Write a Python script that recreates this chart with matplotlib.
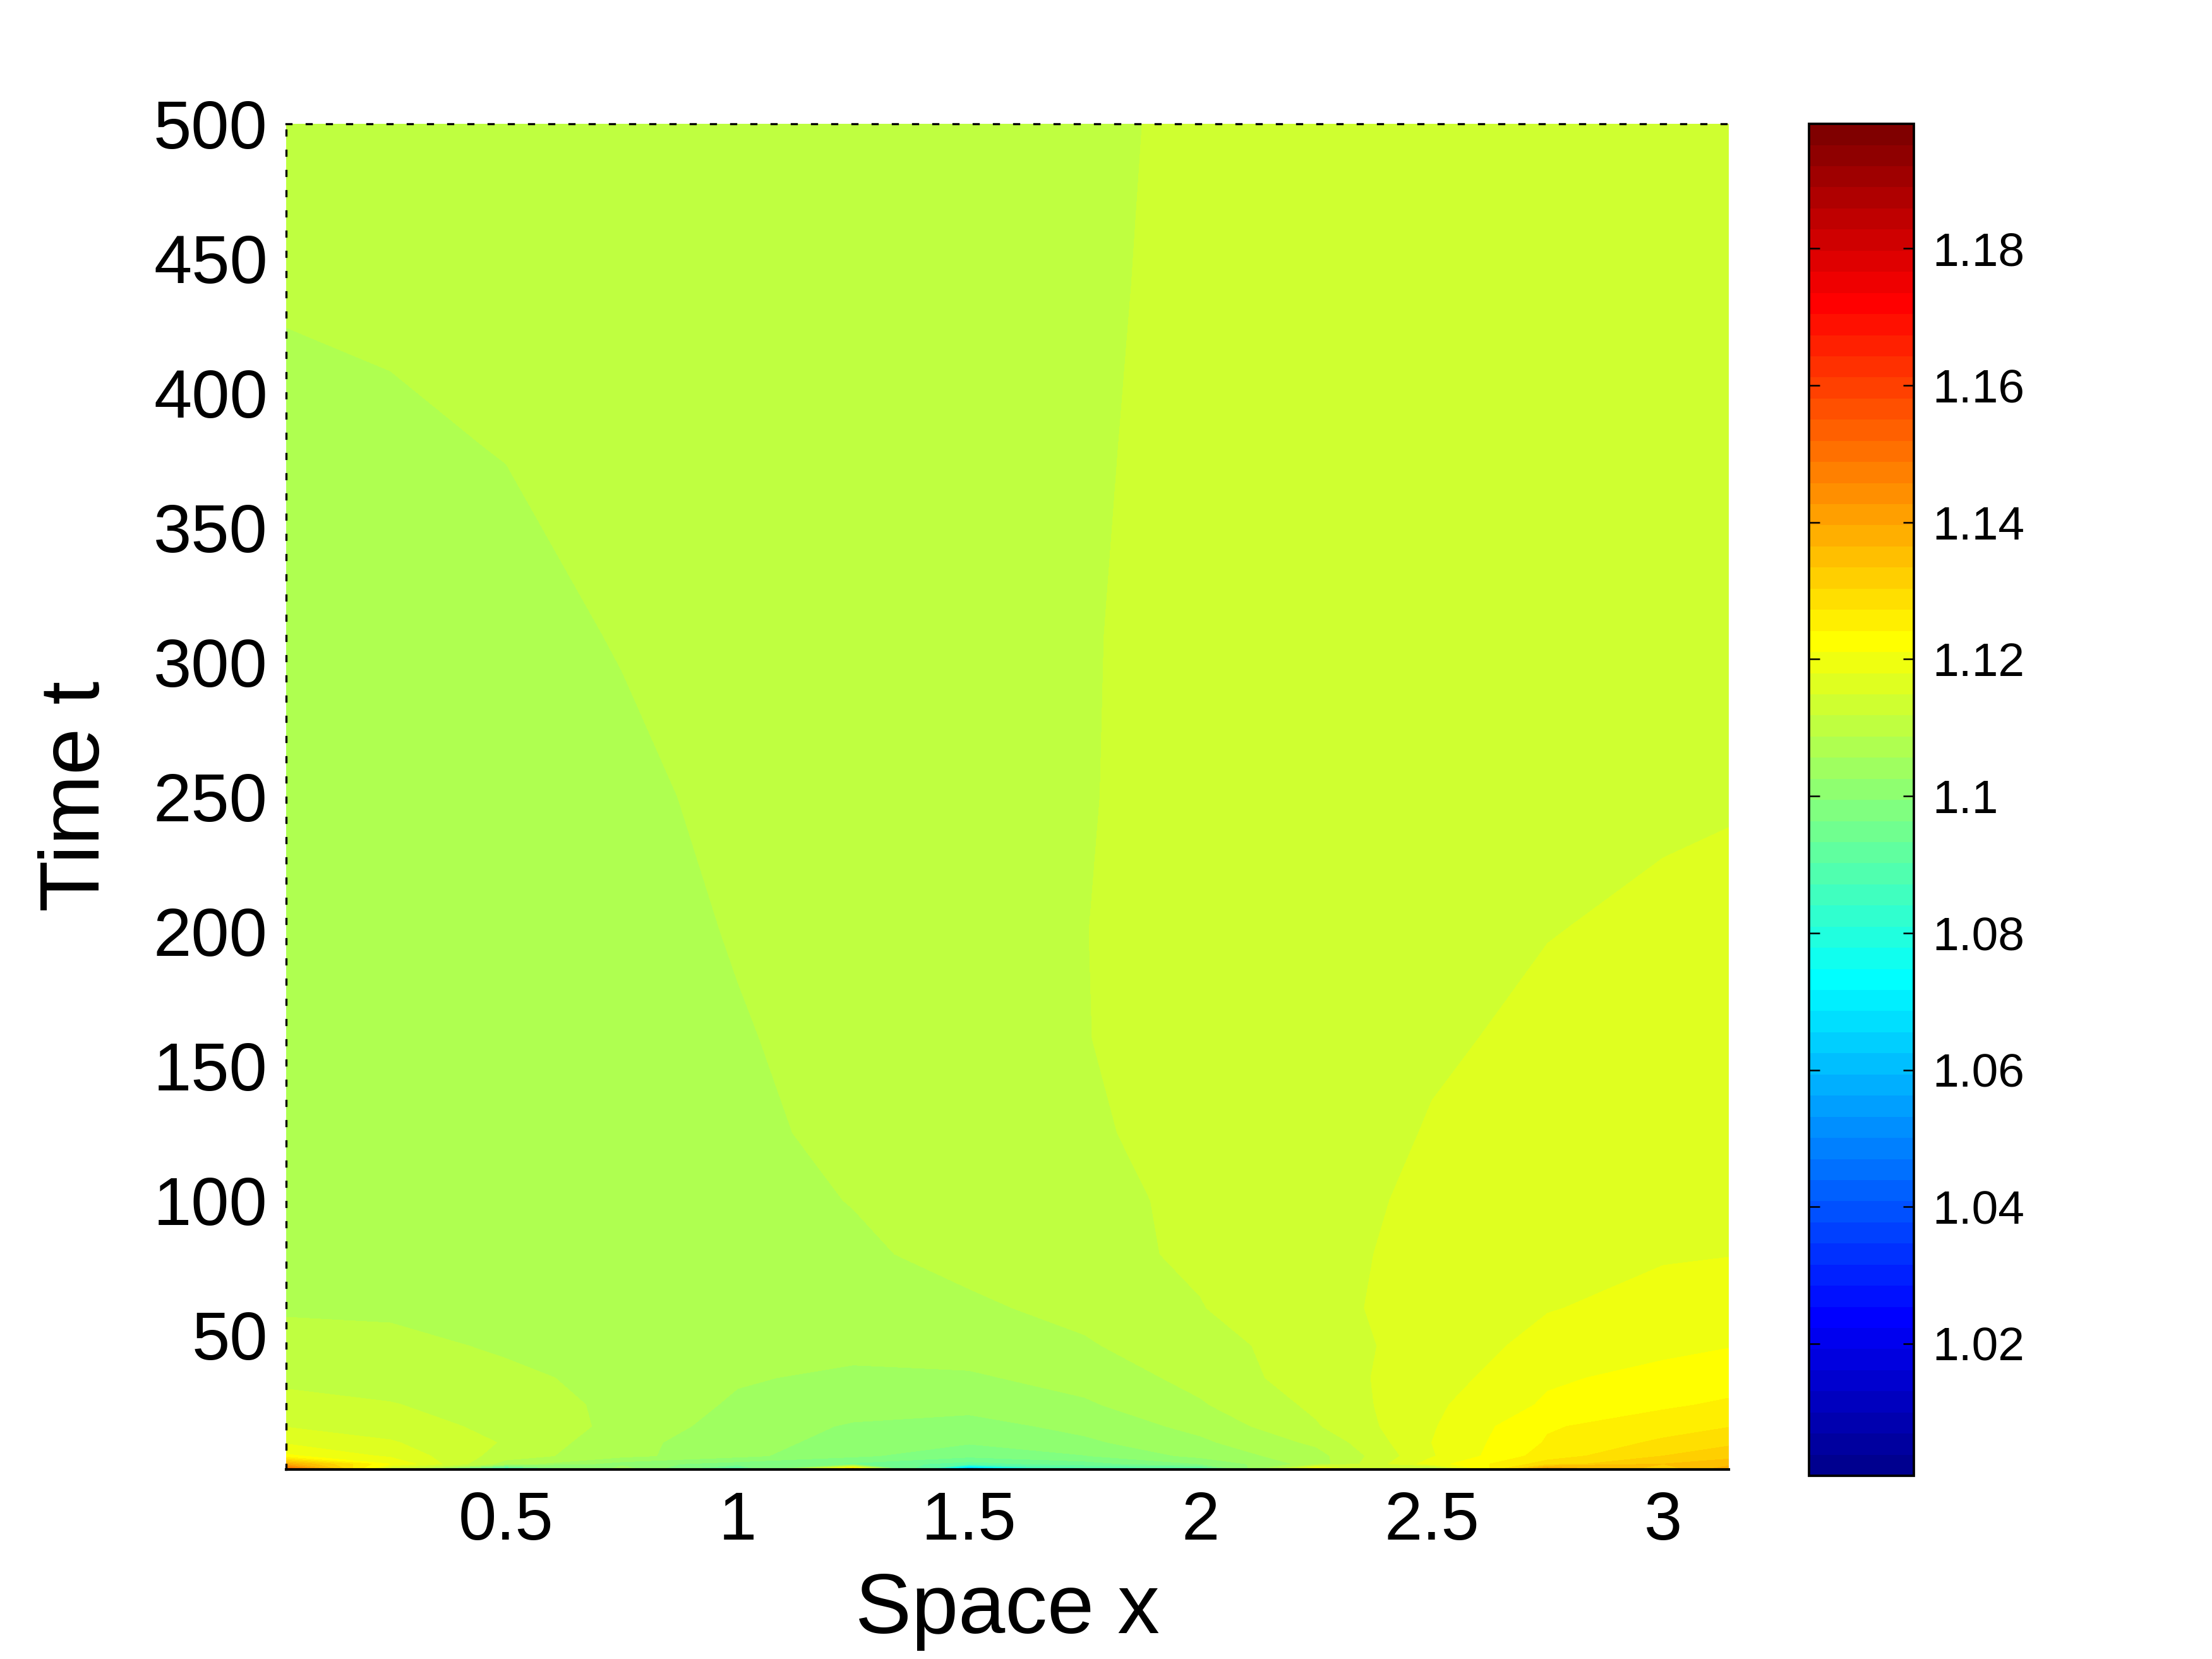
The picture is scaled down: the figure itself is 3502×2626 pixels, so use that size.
import numpy as np
import matplotlib
matplotlib.use("Agg")
import matplotlib.pyplot as plt
from matplotlib.colors import ListedColormap, Normalize
from matplotlib.cm import ScalarMappable
from matplotlib.ticker import FormatStrFormatter

plt.rcParams['font.family'] = ['Liberation Sans', 'DejaVu Sans']

# grid nodes (space x, time t)
x_nodes = [0.0245, 0.25, 0.5, 0.75, 1.0, 1.25, 1.5, 1.75, 2.0, 2.25, 2.5, 2.75, 3.0, 3.1416]
t_nodes = [0, 2, 5, 10, 16, 24, 34, 46, 60, 80, 100, 125, 160, 200, 250, 310, 380, 440, 500]

# estimated solution values, one row per t node
u_values = [
    [1.15500, 1.11180, 1.08094, 1.10562, 1.08711, 1.13648, 1.05008, 1.08711, 1.08711, 1.12414, 1.10562, 1.14266, 1.13031, 1.13957],
    [1.13803, 1.12105, 1.10717, 1.10100, 1.09791, 1.09575, 1.09174, 1.09482, 1.09945, 1.10717, 1.11951, 1.12877, 1.13340, 1.13494],
    [1.12167, 1.11735, 1.11025, 1.10655, 1.10346, 1.10007, 1.09729, 1.09930, 1.10346, 1.10748, 1.11766, 1.12568, 1.13031, 1.13247],
    [1.11751, 1.11519, 1.11149, 1.10655, 1.10393, 1.10130, 1.09976, 1.10192, 1.10501, 1.10933, 1.11797, 1.12445, 1.12784, 1.12954],
    [1.11473, 1.11334, 1.11087, 1.10794, 1.10408, 1.10223, 1.10130, 1.10346, 1.10655, 1.11149, 1.11766, 1.12383, 1.12568, 1.12707],
    [1.11288, 1.11195, 1.11041, 1.10794, 1.10516, 1.10377, 1.10362, 1.10516, 1.10840, 1.11241, 1.11735, 1.12152, 1.12368, 1.12460],
    [1.11103, 1.11056, 1.10939, 1.10778, 1.10593, 1.10501, 1.10516, 1.10686, 1.10964, 1.11349, 1.11643, 1.12059, 1.12198, 1.12275],
    [1.11010, 1.10964, 1.10825, 1.10717, 1.10670, 1.10655, 1.10717, 1.10840, 1.11056, 1.11334, 1.11627, 1.11889, 1.12028, 1.12090],
    [1.10825, 1.10809, 1.10748, 1.10701, 1.10701, 1.10748, 1.10825, 1.10948, 1.11167, 1.11411, 1.11596, 1.11781, 1.11889, 1.11936],
    [1.10732, 1.10732, 1.10717, 1.10717, 1.10748, 1.10825, 1.10954, 1.11093, 1.11226, 1.11396, 1.11581, 1.11704, 1.11772, 1.11788],
    [1.10670, 1.10677, 1.10686, 1.10717, 1.10778, 1.10880, 1.10988, 1.11118, 1.11226, 1.11380, 1.11550, 1.11658, 1.11735, 1.11754],
    [1.10655, 1.10661, 1.10680, 1.10717, 1.10809, 1.10939, 1.11041, 1.11149, 1.11257, 1.11365, 1.11504, 1.11612, 1.11673, 1.11692],
    [1.10624, 1.10630, 1.10655, 1.10717, 1.10849, 1.10964, 1.11065, 1.11173, 1.11272, 1.11365, 1.11457, 1.11534, 1.11587, 1.11605],
    [1.10655, 1.10670, 1.10701, 1.10763, 1.10890, 1.10988, 1.11081, 1.11176, 1.11266, 1.11349, 1.11420, 1.11482, 1.11525, 1.11538],
    [1.10701, 1.10717, 1.10754, 1.10828, 1.10917, 1.10994, 1.11072, 1.11170, 1.11241, 1.11309, 1.11365, 1.11417, 1.11457, 1.11473],
    [1.10748, 1.10766, 1.10809, 1.10883, 1.10957, 1.11025, 1.11087, 1.11170, 1.11226, 1.11281, 1.11328, 1.11365, 1.11386, 1.11393],
    [1.10825, 1.10845, 1.10877, 1.10933, 1.10988, 1.11041, 1.11093, 1.11164, 1.11217, 1.11263, 1.11300, 1.11328, 1.11346, 1.11349],
    [1.10887, 1.10900, 1.10933, 1.10964, 1.11001, 1.11044, 1.11093, 1.11158, 1.11211, 1.11248, 1.11281, 1.11309, 1.11325, 1.11328],
    [1.10964, 1.10970, 1.10985, 1.11010, 1.11041, 1.11078, 1.11118, 1.11161, 1.11198, 1.11235, 1.11263, 1.11285, 1.11294, 1.11297],
]

c_min, c_max = 1.0007, 1.1982
x_ticks = [0.5, 1, 1.5, 2, 2.5, 3]
t_ticks = [50, 100, 150, 200, 250, 300, 350, 400, 450, 500]
cb_ticks = [1.02, 1.04, 1.06, 1.08, 1.1, 1.12, 1.14, 1.16, 1.18]


def matlab_jet(m=64):
    # same construction as MATLAB's jet(m)
    n = int(np.ceil(m / 4))
    u = np.r_[np.arange(1, n + 1) / n, np.ones(n - 1), np.arange(n, 0, -1) / n]
    g = int(np.ceil(n / 2)) - int(m % 4 == 1) + np.arange(1, len(u) + 1)
    r = g + n
    b = g - n
    J = np.zeros((m, 3))
    J[r[r <= m] - 1, 0] = u[r <= m]
    J[g[g <= m] - 1, 1] = u[g <= m]
    J[b[b >= 1] - 1, 2] = u[b >= 1]
    return J


cmap = ListedColormap(matlab_jet(64))
norm = Normalize(vmin=c_min, vmax=c_max)

fig = plt.figure(figsize=(3503 / 300, 2626 / 300), dpi=300)
ax = fig.add_axes([0.1293, 0.1143, 0.6520, 0.8111])

levels = np.linspace(c_min, c_max, 65)
ax.contourf(x_nodes, t_nodes, np.array(u_values), levels=levels, cmap=cmap, norm=norm)

ax.set_xlim(x_nodes[0], x_nodes[-1])
ax.set_ylim(0, 500)
ax.set_xticks(x_ticks)
ax.set_yticks(t_ticks)
ax.xaxis.set_major_formatter(FormatStrFormatter('%g'))
ax.tick_params(length=0, labelsize=26)
ax.tick_params(axis='y', pad=7)
ax.tick_params(axis='x', pad=8)
ax.set_xlabel('Space x', fontsize=32, labelpad=7)
ax.set_ylabel('Time t', fontsize=32, labelpad=14)

# spines: dotted left/top, solid bottom, none on the right
for side in ['left', 'top']:
    ax.spines[side].set_linewidth(0.8)
    ax.spines[side].set_linestyle((0, (2.4, 7.2)))
ax.spines['bottom'].set_linewidth(1.0)
ax.spines['right'].set_visible(False)
for sp in ax.spines.values():
    sp.set_zorder(5)

# colorbar
cax = fig.add_axes([0.8176, 0.1104, 0.0474, 0.8149])
cb = fig.colorbar(ScalarMappable(norm=norm, cmap=cmap), cax=cax)
cb.set_ticks(cb_ticks)
cb.ax.yaxis.set_major_formatter(FormatStrFormatter('%g'))
cb.ax.tick_params(direction='in', left=True, right=True, length=4, width=0.6,
                  labelsize=18, pad=7)
cb.outline.set_linewidth(0.9)

fig.savefig('out.png', dpi=300)
